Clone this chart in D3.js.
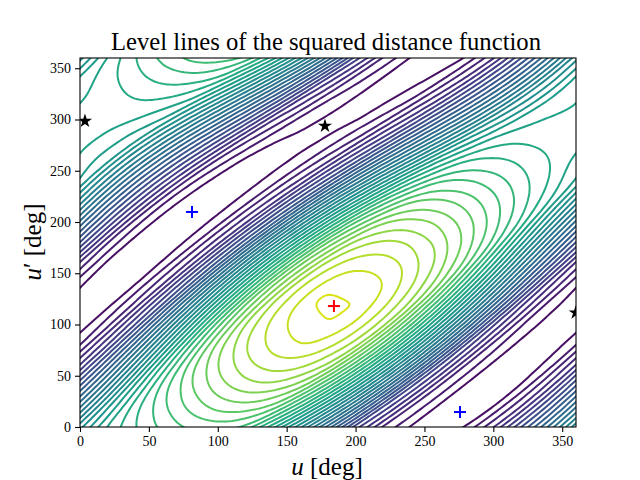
<!DOCTYPE html>
<html>
<head>
<meta charset="utf-8">
<script src="https://cdn.jsdelivr.net/npm/d3@7"></script>
<style>
  html, body { margin: 0; padding: 0; background: #fff; }
  text { font-family: "Liberation Serif", serif; fill: #000; }
</style>
</head>
<body>
<div id="chart"></div>
<script>
// level index at each grid node (rows: u' = 0, 20 .. 340, columns: u = 0, 20 .. 340)
// hand estimates from counting level lines in the reference, not exact measurements
const gridRows = [
  [15.63, 19.16, 21.1, 22.43, 23.42, 23.66, 22.89, 19.4, 15.22, 10.66, 5.54, 1.88, -0.08, -0.93, 0.06, 2.88, 6.88, 11.07],
  [11.8, 16.76, 20.68, 22.94, 24.49, 25.59, 25.78, 24.84, 21.05, 16.51, 11.55, 6.04, 2.06, -0.12, -1.08, -0.04, 2.95, 7.25],
  [8.04, 12.99, 18.34, 22.58, 25.06, 26.72, 27.77, 27.79, 26.55, 22.4, 17.46, 12.11, 6.28, 2.08, -0.21, -1.12, 0.09, 3.38],
  [4.09, 9.15, 14.49, 20.16, 24.62, 27.21, 28.82, 29.7, 29.42, 27.82, 23.27, 17.94, 12.27, 6.22, 1.91, -0.33, -1.07, 0.44],
  [0.95, 5.0, 10.45, 16.11, 22.0, 26.57, 29.11, 30.55, 31.13, 30.49, 28.49, 23.55, 17.9, 12.01, 5.85, 1.59, -0.48, -0.92],
  [-0.7, 1.57, 6.01, 11.78, 17.66, 23.66, 28.18, 30.55, 31.75, 31.91, 30.87, 28.48, 23.22, 17.35, 11.35, 5.24, 1.15, -0.62],
  [-0.75, -0.43, 2.23, 6.99, 12.98, 18.97, 24.92, 29.27, 31.34, 32.8, 31.94, 30.51, 27.8, 22.32, 16.34, 10.39, 4.45, 0.66],
  [0.16, -0.85, -0.14, 2.84, 7.82, 13.92, 19.86, 25.64, 29.69, 31.4, 31.85, 31.21, 29.46, 26.53, 20.94, 15.01, 9.23, 3.59],
  [2.74, -0.29, -0.91, 0.12, 3.32, 8.41, 14.46, 20.23, 25.71, 29.4, 30.71, 30.7, 29.81, 27.84, 24.8, 19.26, 13.5, 8.02],
  [6.9, 2.02, -0.62, -0.92, 0.33, 3.64, 8.68, 14.56, 20.03, 25.15, 28.44, 29.36, 29.03, 27.92, 25.84, 22.85, 17.48, 12.02],
  [10.73, 6.01, 1.52, -0.8, -0.88, 0.48, 3.74, 8.61, 14.19, 19.3, 24.02, 26.92, 27.52, 26.97, 25.75, 23.72, 20.9, 15.83],
  [14.48, 9.78, 5.45, 1.28, -0.82, -0.79, 0.52, 3.61, 8.18, 13.4, 18.11, 22.44, 25.02, 25.4, 24.74, 23.57, 21.71, 19.19],
  [17.92, 13.61, 9.3, 5.29, 1.34, -0.65, -0.67, 0.47, 3.26, 7.47, 12.29, 16.61, 20.62, 22.98, 23.25, 22.64, 21.64, 20.08],
  [18.6, 17.25, 13.33, 9.34, 5.55, 1.71, -0.33, -0.52, 0.32, 2.75, 6.56, 10.99, 14.99, 18.78, 21.03, 21.35, 20.91, 20.21],
  [19.43, 18.63, 17.26, 13.66, 9.89, 6.21, 2.32, 0.11, -0.38, 0.1, 2.13, 5.55, 9.66, 13.44, 17.12, 19.42, 19.91, 19.77],
  [19.34, 19.4, 18.99, 17.94, 14.56, 10.9, 7.17, 3.11, 0.6, -0.25, -0.17, 1.47, 4.57, 8.46, 12.13, 15.86, 18.33, 19.12],
  [18.8, 19.68, 20.13, 20.04, 19.21, 15.94, 12.23, 8.33, 3.97, 1.1, -0.15, -0.46, 0.86, 3.74, 7.52, 11.24, 15.14, 17.91],
  [18.2, 19.75, 20.76, 21.53, 21.66, 20.94, 17.62, 13.74, 9.54, 4.82, 1.55, -0.09, -0.72, 0.38, 3.15, 6.98, 10.87, 15.07]
];
const gridStep = 20;
const levels = d3.range(0, 33);

const xTicks = [0, 50, 100, 150, 200, 250, 300, 350];
const yTicks = [0, 50, 100, 150, 200, 250, 300, 350];

const maxPoints = [[184.3, 118]];
const minPoints = [[81.3, 209.8], [275.8, 14.6]];
const saddlePoints = [[3.6, 298.5], [177.8, 293.7], [359.8, 111.5]];

const width = 640;
const height = 480;
const left = 80;
const right = 576;
const top_ = 58;
const bottom = 427;

const x = d3.scaleLinear().domain([0, 360]).range([left, right]);
const y = d3.scaleLinear().domain([0, 360]).range([bottom, top_]);
const color = d3.scaleSequential(d3.interpolateViridis).domain([-1.5, 34]);

const svg = d3.select('#chart').append('svg').attr('width', width).attr('height', height);

svg.append('clipPath').attr('id', 'plot-clip').append('rect')
  .attr('x', left).attr('y', top_).attr('width', right - left).attr('height', bottom - top_);

const plot = svg.append('g').attr('clip-path', 'url(#plot-clip)');

// the function is periodic, wrap one extra cell around so rings close outside the clip
const n = gridRows.length;
const pad = 1;
const size = n + 1 + 2 * pad;
const flat = [];
for (let r = 0; r < size; r++) {
  for (let c = 0; c < size; c++) {
    flat.push(gridRows[(r - pad + n) % n][(c - pad + n) % n]);
  }
}

// evens out the corners the 20 degree cells leave in a ring: resample by length, then average
function smoothRing(pts) {
  const closed = pts.concat([pts[0]]);
  const lengths = [0];
  for (let i = 1; i < closed.length; i++) {
    lengths.push(lengths[i - 1] + Math.hypot(closed[i][0] - closed[i - 1][0], closed[i][1] - closed[i - 1][1]));
  }
  const total = lengths[lengths.length - 1];
  const count = Math.max(8, Math.round(total / 3));
  const samples = [];
  let seg = 0;
  for (let i = 0; i < count; i++) {
    const at = total * i / count;
    while (lengths[seg + 1] < at) seg++;
    const f = (at - lengths[seg]) / ((lengths[seg + 1] - lengths[seg]) || 1);
    samples.push([
      closed[seg][0] + f * (closed[seg + 1][0] - closed[seg][0]),
      closed[seg][1] + f * (closed[seg + 1][1] - closed[seg][1])
    ]);
  }
  const half = Math.min(4, Math.floor(count / 16));
  let result = samples;
  for (let pass = 0; pass < 2; pass++) {
    result = result.map((_, i) => {
      let sx = 0, sy = 0;
      for (let k = -half; k <= half; k++) {
        const p = result[(i + k + count) % count];
        sx += p[0];
        sy += p[1];
      }
      return [sx / (2 * half + 1), sy / (2 * half + 1)];
    });
  }
  return result;
}

const contours = d3.contours().size([size, size]).thresholds(levels)(flat);
const toDeg = i => (i - 0.5 - pad) * gridStep;
const line = d3.line().curve(d3.curveLinearClosed);

contours.forEach(c => {
  c.coordinates.forEach(polygon => {
    polygon.forEach(ring => {
      const pts = ring.slice(0, -1).map(p => [x(toDeg(p[0])), y(toDeg(p[1]))]);
      plot.append('path')
        .attr('d', line(smoothRing(pts)))
        .attr('fill', 'none')
        .attr('stroke', color(c.value))
        .attr('stroke-width', 2);
    });
  });
});

// MARKERS
const plus = (pts, stroke) => {
  pts.forEach(p => {
    const g = plot.append('g').attr('transform', `translate(${x(p[0])},${y(p[1])})`);
    g.append('line').attr('x1', -6).attr('x2', 6).attr('stroke', stroke).attr('stroke-width', 2);
    g.append('line').attr('y1', -6).attr('y2', 6).attr('stroke', stroke).attr('stroke-width', 2);
  });
};
plus(minPoints, '#0000ff');
plus(maxPoints, '#ff0000');
plot.selectAll('.saddle').data(saddlePoints).enter().append('path')
  .attr('class', 'saddle')
  .attr('d', d3.symbol().type(d3.symbolStar).size(62))
  .attr('transform', d => `translate(${x(d[0])},${y(d[1])})`)
  .attr('fill', '#000');

// AXES
const gx = svg.append('g').attr('transform', `translate(0,${bottom})`)
  .call(d3.axisBottom(x).tickValues(xTicks).tickSize(5).tickPadding(4).tickSizeOuter(0));
const gy = svg.append('g').attr('transform', `translate(${left},0)`)
  .call(d3.axisLeft(y).tickValues(yTicks).tickSize(5).tickPadding(4).tickSizeOuter(0));
[gx, gy].forEach(g => {
  g.select('.domain').remove();
  g.selectAll('line').attr('stroke', '#000').attr('stroke-width', 1.1);
  g.selectAll('text').style('font-family', '"Liberation Serif", serif').style('font-size', '14px');
});
svg.append('rect')
  .attr('x', left).attr('y', top_).attr('width', right - left).attr('height', bottom - top_)
  .attr('fill', 'none').attr('stroke', '#000').attr('stroke-width', 1.1);

// LABELS
svg.append('text').attr('x', 326).attr('y', 50).attr('text-anchor', 'middle')
  .attr('textLength', 430).attr('lengthAdjust', 'spacingAndGlyphs')
  .style('font-size', '25px').text('Level lines of the squared distance function');

const xLabel = svg.append('text').attr('x', 327).attr('y', 475).attr('text-anchor', 'middle').style('font-size', '25px');
xLabel.append('tspan').style('font-style', 'italic').text('u');
xLabel.append('tspan').text(' [deg]');

const yLabel = svg.append('text').attr('transform', 'translate(41,242) rotate(-90)').attr('text-anchor', 'middle').style('font-size', '25px');
yLabel.append('tspan').style('font-style', 'italic').text('u');
yLabel.append('tspan').text('\u2032 [deg]');
</script>
</body>
</html>
